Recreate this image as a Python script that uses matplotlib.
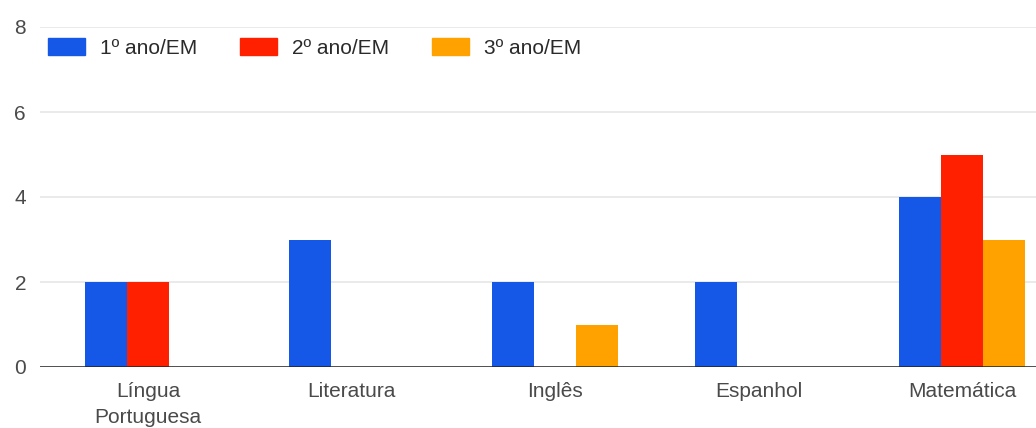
import numpy as np
import matplotlib.pyplot as plt
from matplotlib.patches import Patch

plt.rcParams["font.family"] = ["Liberation Sans", "DejaVu Sans"]

categories = ["Língua\nPortuguesa", "Literatura", "Inglês", "Espanhol", "Matemática"]
series_names = ["1º ano/EM", "2º ano/EM", "3º ano/EM"]
ano1 = [2, 3, 2, 2, 4]
ano2 = [2, 0, 0, 0, 5]
ano3 = [0, 0, 1, 0, 3]
colors = ["#1558E8", "#FF2000", "#FFA200"]

fig = plt.figure(figsize=(10.36, 4.28), dpi=100)
ax = fig.add_axes([40 / 1036, 61 / 428, 1 - 40 / 1036, 340 / 428])

x = np.arange(len(categories))
width = 0.2064
for i, (vals, name, c) in enumerate(zip([ano1, ano2, ano3], series_names, colors)):
    ax.bar(x + (i - 1) * width, vals, width=width, color=c, label=name, zorder=3)

ax.set_xlim(-0.531, 4.364)
ax.set_ylim(0, 8)
ax.set_yticks([0, 2, 4, 6, 8])
ax.yaxis.grid(True, color="#e6e6e6", linewidth=1.2, zorder=0)
ax.axhline(0, color="#222222", linewidth=1.8, zorder=4)
ax.set_xticks(x)
ax.set_xticklabels(categories, linespacing=1.45)
ax.tick_params(axis="both", length=0, labelsize=15, colors="#4a4a4a")
ax.tick_params(axis="x", pad=11)
ax.tick_params(axis="y", pad=10)
for s in ax.spines.values():
    s.set_visible(False)

handles = [Patch(color=c) for c in colors]
ax.legend(handles, series_names, loc="upper left", bbox_to_anchor=(0.008, 0.968),
          ncol=3, frameon=False, fontsize=15, handlelength=1.78, handleheight=0.92,
          handletextpad=0.72, columnspacing=2.05, borderpad=0, borderaxespad=0,
          labelcolor="#2a2a2a")

fig.savefig("out.png", dpi=100)
